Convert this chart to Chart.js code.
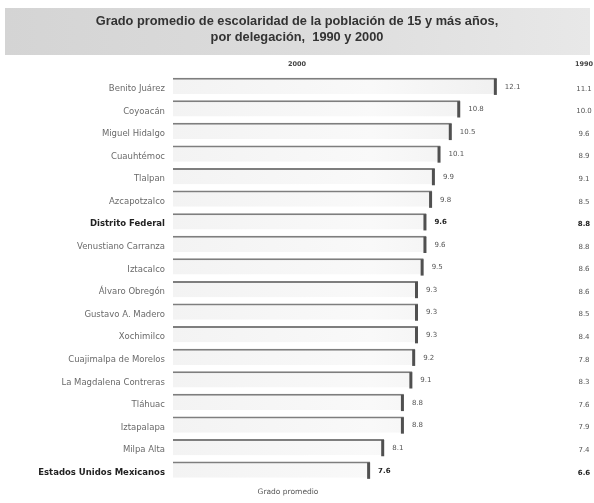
<!DOCTYPE html>
<html>
<head>
<meta charset="utf-8">
<script src="https://cdn.jsdelivr.net/npm/chart.js@4/dist/chart.umd.min.js"></script>
<style>
html,body{margin:0;padding:0;background:#fff;}
#wrap{width:594px;height:503px;position:relative;}
</style>
</head>
<body>
<div id="wrap"><canvas id="c" width="594" height="503"></canvas></div>
<script>
const categories = [
  "Benito Juárez","Coyoacán","Miguel Hidalgo","Cuauhtémoc","Tlalpan","Azcapotzalco",
  "Distrito Federal","Venustiano Carranza","Iztacalco","Álvaro Obregón","Gustavo A. Madero",
  "Xochimilco","Cuajimalpa de Morelos","La Magdalena Contreras","Tláhuac","Iztapalapa",
  "Milpa Alta","Estados Unidos Mexicanos"
];
const values2000 = [12.1,10.8,10.5,10.1,9.9,9.8,9.6,9.6,9.5,9.3,9.3,9.3,9.2,9.1,8.8,8.8,8.1,7.6];
const values1990 = [11.1,10.0,9.6,8.9,9.1,8.5,8.8,8.8,8.6,8.6,8.5,8.4,7.8,8.3,7.6,7.9,7.4,6.6];
const boldRows = ["Distrito Federal","Estados Unidos Mexicanos"];
const titleLines = ["Grado promedio de escolaridad de la población de 15 y más años,","por delegación,  1990 y 2000"];
const headerCurrent = "2000";
const headerPrevious = "1990";
const axisTitle = "Grado promedio";

const FONT = "'Liberation Sans', Arial, sans-serif";
const SMALL = "'DejaVu Sans', sans-serif";
const isBold = i => boldRows.includes(categories[i]);

const decor = {
  id: 'decor',
  beforeDraw(chart) {
    const ctx = chart.ctx;
    ctx.save();
    const g = ctx.createLinearGradient(5, 0, 590, 0);
    g.addColorStop(0, '#d4d4d4');
    g.addColorStop(0.5, '#dcdcdc');
    g.addColorStop(1, '#e8e8e8');
    ctx.fillStyle = g;
    ctx.fillRect(5, 8, 585, 47);
    ctx.restore();
  },
  afterDatasetsDraw(chart) {
    const ctx = chart.ctx;
    const meta = chart.getDatasetMeta(0);
    ctx.save();
    meta.data.forEach((bar, i) => {
      const h = Math.abs(bar.height);
      ctx.fillStyle = '#505050';
      ctx.fillRect(bar.x - 3, bar.y - h / 2 + 1, 3, h);
      ctx.fillStyle = isBold(i) ? '#222' : '#555';
      ctx.font = (isBold(i) ? 'bold ' : '') + '7px ' + SMALL;
      ctx.textAlign = 'left';
      ctx.textBaseline = 'middle';
      ctx.fillText(values2000[i].toFixed(1), bar.x + 8, bar.y + 1);
      ctx.textAlign = 'center';
      ctx.fillText(values1990[i].toFixed(1), 584, bar.y + 3);
    });
    ctx.fillStyle = '#444';
    ctx.font = 'bold 6.5px ' + SMALL;
    ctx.textAlign = 'center';
    ctx.textBaseline = 'middle';
    ctx.fillText(headerCurrent, 297, 64);
    ctx.fillText(headerPrevious, 584, 64);
    ctx.fillStyle = '#555';
    ctx.font = '7.5px ' + SMALL;
    ctx.fillText(axisTitle, 288, 492);
    ctx.restore();
  }
};

new Chart(document.getElementById('c'), {
  type: 'bar',
  data: {
    labels: categories,
    datasets: [{
      data: values2000,
      backgroundColor: (c) => {
        const ca = c.chart.chartArea;
        if (!ca) return '#f4f4f4';
        const g = c.chart.ctx.createLinearGradient(ca.left, 0, ca.left + 330, 0);
        g.addColorStop(0, '#f3f3f3');
        g.addColorStop(0.6, '#f9f9f9');
        g.addColorStop(1, '#f0f0f0');
        return g;
      },
      borderColor: '#7e7e7e',
      borderWidth: {top: 2, right: 0, bottom: 0, left: 0},
      borderSkipped: false,
      categoryPercentage: 0.72,
      barPercentage: 1.0
    }]
  },
  options: {
    indexAxis: 'y',
    responsive: false,
    animation: false,
    devicePixelRatio: 1,
    layout: {padding: {top: 8, right: 0, bottom: 22, left: 0}},
    plugins: {
      legend: {display: false},
      tooltip: {enabled: false},
      title: {
        display: true,
        text: titleLines,
        color: '#333',
        font: {family: FONT, size: 12.8, weight: 'bold', lineHeight: 1.25},
        padding: {top: 5, bottom: 29.5}
      }
    },
    scales: {
      x: {
        display: false,
        min: 0.6,
        max: 15.55
      },
      y: {
        grid: {display: false, drawTicks: false},
        border: {display: false},
        afterFit: (s) => { s.width = 173; },
        ticks: {
          padding: 8,
          labelOffset: 3,
          color: (c) => isBold(c.index) ? '#222' : '#6a6a6a',
          font: (c) => ({family: SMALL, size: 8.5, weight: isBold(c.index) ? 'bold' : 'normal'})
        }
      }
    }
  },
  plugins: [decor]
});
</script>
</body>
</html>
